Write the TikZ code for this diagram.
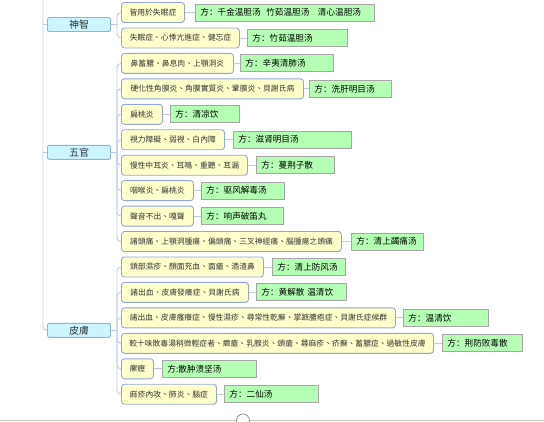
\documentclass[tikz,border=0pt]{standalone}
\usepackage{fontspec}
\newfontfamily\tcfont{Noto Sans CJK TC}
\newfontfamily\scfont{Noto Sans CJK SC}
\definecolor{linkblue}{HTML}{BCCBEC}
\definecolor{groupfill}{HTML}{CCF6FF}
\definecolor{groupedge}{HTML}{8EB2E6}
\definecolor{leaffill}{HTML}{FFFFCC}
\definecolor{leafedge}{HTML}{93A6D6}
\definecolor{rxfill}{HTML}{B4FFB4}
\definecolor{rxedge}{HTML}{A6A6A6}
\tikzset{
  branch/.style={draw=linkblue, line width=0.9pt},
  group/.style={draw=groupedge, fill=groupfill, line width=0.9pt, rounded corners=1.5pt,
    minimum width=63pt, minimum height=14pt, inner sep=0pt, text=black!80,
    font=\tcfont\fontsize{10}{11}\selectfont},
  leaf/.style={draw=leafedge, fill=leaffill, line width=0.9pt, rounded corners=3pt,
    anchor=west, minimum height=20pt, inner xsep=4pt, inner ysep=0pt, text=black!80,
    font=\tcfont\fontsize{7.8}{9}\selectfont},
  rx/.style={draw=rxedge, fill=rxfill, line width=0.9pt, anchor=west,
    minimum height=17pt, inner xsep=5pt, inner ysep=0pt, align=left, text=black,
    font=\scfont\fontsize{8.6}{10}\selectfont}
}
\begin{document}
\begin{tikzpicture}[x=1pt, y=-1pt]
  \useasboundingbox (0,0) rectangle (544,421);
  \node[group] (shenzhi) at (79,24.5) {神智};
  \node[group] (wuguan) at (79,152.3) {五官};
  \node[group] (pifu) at (79,330.3) {皮膚};

  \node[leaf, minimum width=63] (s1) at (121,12.5) {皆用於失眠症};
  \node[leaf, minimum width=118] (s2) at (121,38) {失眠症、心悸亢進症、健忘症};
  \node[leaf, minimum width=112] (w1) at (121,63.4) {鼻蓄膿、鼻息肉、上顎洞炎};
  \node[leaf, minimum width=182] (w2) at (121,88.8) {硬化性角膜炎、角膜實質炎、鞏膜炎、貝謝氏病};
  \node[leaf, minimum width=41] (w3) at (121,114.3) {扁桃炎};
  \node[leaf, minimum width=103] (w4) at (121,139.7) {視力障礙、弱視、白內障};
  \node[leaf, minimum width=126] (w5) at (121,165.2) {慢性中耳炎、耳鳴、重聽、耳漏};
  \node[leaf, minimum width=72] (w6) at (121,190.6) {咽喉炎、扁桃炎};
  \node[leaf, minimum width=72] (w7) at (121,216.1) {聲音不出、嘎聲};
  \node[leaf, minimum width=220] (w8) at (121,241.5) {諸頭痛、上顎洞腫瘍、偏頭痛、三叉神經痛、腦腫瘍之頭痛};
  \node[leaf, minimum width=142] (p1) at (121,267) {頭部濕疹、顏面充血、面瘡、酒渣鼻};
  \node[leaf, minimum width=127] (p2) at (121,292.4) {諸出血、皮膚發癢症、貝謝氏病};
  \node[leaf, minimum width=274] (p3) at (121,317.9) {諸出血、皮膚瘙癢症、慢性濕疹、尋常性乾癬、掌蹠膿疱症、貝謝氏症候群};
  \node[leaf, minimum width=312] (p4) at (121,343.3) {較十味敗毒湯稍微輕症者、癤瘡、乳腺炎、頭瘡、蕁麻疹、疥癬、蓄膿症、過敏性皮膚};
  \node[leaf, minimum width=32] (p5) at (121,368.8) {瘰癧};
  \node[leaf, minimum width=95] (p6) at (121,394.2) {麻疹內攻、肺炎、腦症};

  \node[rx, text width=169] (rs1) at (195,12.5) {方：千金温胆汤\ \ 竹茹温胆汤\ \ \ 清心温胆汤};
  \node[rx, text width=90] (rs2) at (247,38) {方：竹茹温胆汤};
  \node[rx, text width=83] (rw1) at (240,63.4) {方：辛夷清肺汤};
  \node[rx, text width=72] (rw2) at (309,88.8) {方：洗肝明目汤};
  \node[rx, text width=59] (rw3) at (170,114.3) {方：清凉饮};
  \node[rx, text width=108] (rw4) at (233,139.7) {方：滋肾明目汤};
  \node[rx, text width=68] (rw5) at (256,165.2) {方：蔓荆子散};
  \node[rx, text width=73] (rw6) at (201,190.6) {方：驱风解毒汤};
  \node[rx, text width=72] (rw7) at (201,216.1) {方：响声破笛丸};
  \node[rx, text width=62] (rw8) at (351,241.5) {方：清上蠲痛汤};
  \node[rx, text width=63] (rp1) at (272,267) {方：清上防风汤};
  \node[rx, text width=80] (rp2) at (256,292.4) {方：黄解散 温清饮};
  \node[rx, text width=75] (rp3) at (403,317.9) {方：温清饮};
  \node[rx, text width=70] (rp4) at (442,343.3) {方：荆防败毒散};
  \node[rx, text width=84] (rp5) at (162,368.8) {方:散肿溃坚汤};
  \node[rx, text width=84] (rp6) at (224,394.2) {方：二仙汤};

  \coordinate (root) at (43,-2);
  \draw[branch, rounded corners=4pt] (root) |- (pifu.west);
  \draw[branch] (root |- shenzhi.west) -- (shenzhi.west);
  \draw[branch] (root |- wuguan.west) -- (wuguan.west);

  \coordinate (sj) at ([xshift=6pt]shenzhi.east);
  \coordinate (wj) at ([xshift=6pt]wuguan.east);
  \coordinate (pj) at ([xshift=6pt]pifu.east);
  \draw[branch] (shenzhi.east) -- (sj);
  \draw[branch] (wuguan.east) -- (wj);
  \draw[branch] (pifu.east) -- (pj);
  \foreach \l in {s1,s2}
    \draw[branch, rounded corners=4pt] (sj) |- (\l.west);
  \foreach \l in {w1,w2,w3,w4,w5,w6,w7,w8}
    \draw[branch, rounded corners=4pt] (wj) |- (\l.west);
  \foreach \l in {p1,p2,p3,p4,p5,p6}
    \draw[branch, rounded corners=4pt] (pj) |- (\l.west);

  \foreach \l in {s1,s2,w1,w2,w3,w4,w5,w6,w7,w8,p1,p2,p3,p4,p5,p6}
    \draw[branch] (\l.east) -- (r\l.west);

  \draw[black!22, line width=1.5pt] (0,420.3) -- (544,420.3);
  \draw[black!45, fill=white, line width=0.8pt] (243,420.5) circle (6.5);
\end{tikzpicture}
\end{document}
